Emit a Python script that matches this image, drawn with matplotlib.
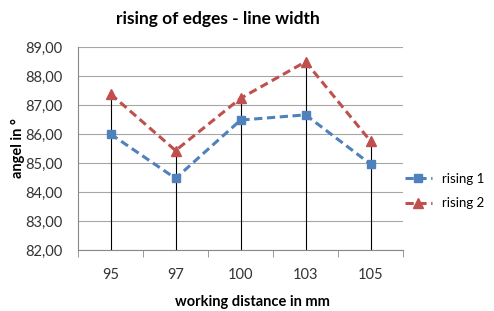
import numpy as np
import matplotlib as mpl
mpl.use('Agg')
import matplotlib.pyplot as plt

categories = ["95", "97", "100", "103", "105"]
rising_1 = [86.00, 84.47, 86.48, 86.66, 84.96]
rising_2 = [87.38, 85.43, 87.23, 88.49, 85.75]
y_ticks = [82, 83, 84, 85, 86, 87, 88, 89]

plt.rcParams["font.family"] = ["Lato", "DejaVu Sans"]
fontsize = 10.5

fig = plt.figure(figsize=(4.94, 3.11), dpi=100)
ax = fig.add_axes([0.158, 0.196, 0.658, 0.653])

x = np.arange(len(categories))

# drop lines from the highest point down to the axis
tops = np.maximum(rising_1, rising_2)
ax.vlines(x, y_ticks[0], tops, color="black", lw=0.8, zorder=2)

ax.plot(x, rising_1, color="#4F81BD", lw=2.2, dashes=(2.7, 1.5), marker="s",
        markersize=6, label="rising 1", zorder=3)
ax.plot(x, rising_2, color="#C0504D", lw=2.2, dashes=(2.7, 1.5), marker="^",
        markersize=6.5, label="rising 2", zorder=3)

ax.set_xlim(-0.5, len(categories) - 0.5)
ax.set_ylim(y_ticks[0], y_ticks[-1])
ax.set_yticks(y_ticks)
ax.set_yticklabels(["%d,00" % v for v in y_ticks], fontsize=fontsize, color="#333333")
ax.set_xticks(x)
ax.set_xticklabels(categories, fontsize=fontsize, color="#333333")
ax.set_xticks(np.arange(len(categories) + 1) - 0.5, minor=True)
ax.tick_params(axis="x", which="major", length=0, pad=13)
ax.tick_params(axis="x", which="minor", length=5, color="#888888", direction="out")
ax.tick_params(axis="y", length=0, pad=11)

ax.grid(axis="y", color="#A6A6A6", lw=0.8)
ax.set_axisbelow(True)
for side in ["top", "right"]:
    ax.spines[side].set_visible(False)
ax.spines["left"].set_color("#888888")
ax.spines["bottom"].set_color("#888888")

fig.text(0.441, 0.94, "rising of edges - line width", fontsize=12.5,
         fontweight="bold", ha="center", va="center")
fig.text(0.51, 0.028, "working distance in mm", fontsize=fontsize,
         fontweight="bold", ha="center", va="center")
fig.text(0.036, 0.525, "angel in °", fontsize=fontsize, fontweight="bold",
         ha="center", va="center", rotation=90)

ax.legend(loc="center left", bbox_to_anchor=(0.99, 0.29), frameon=False,
          fontsize=9.5, handlelength=2.0, handletextpad=0.8,
          labelspacing=0.95, borderaxespad=0)

fig.savefig("out.png", dpi=100)
